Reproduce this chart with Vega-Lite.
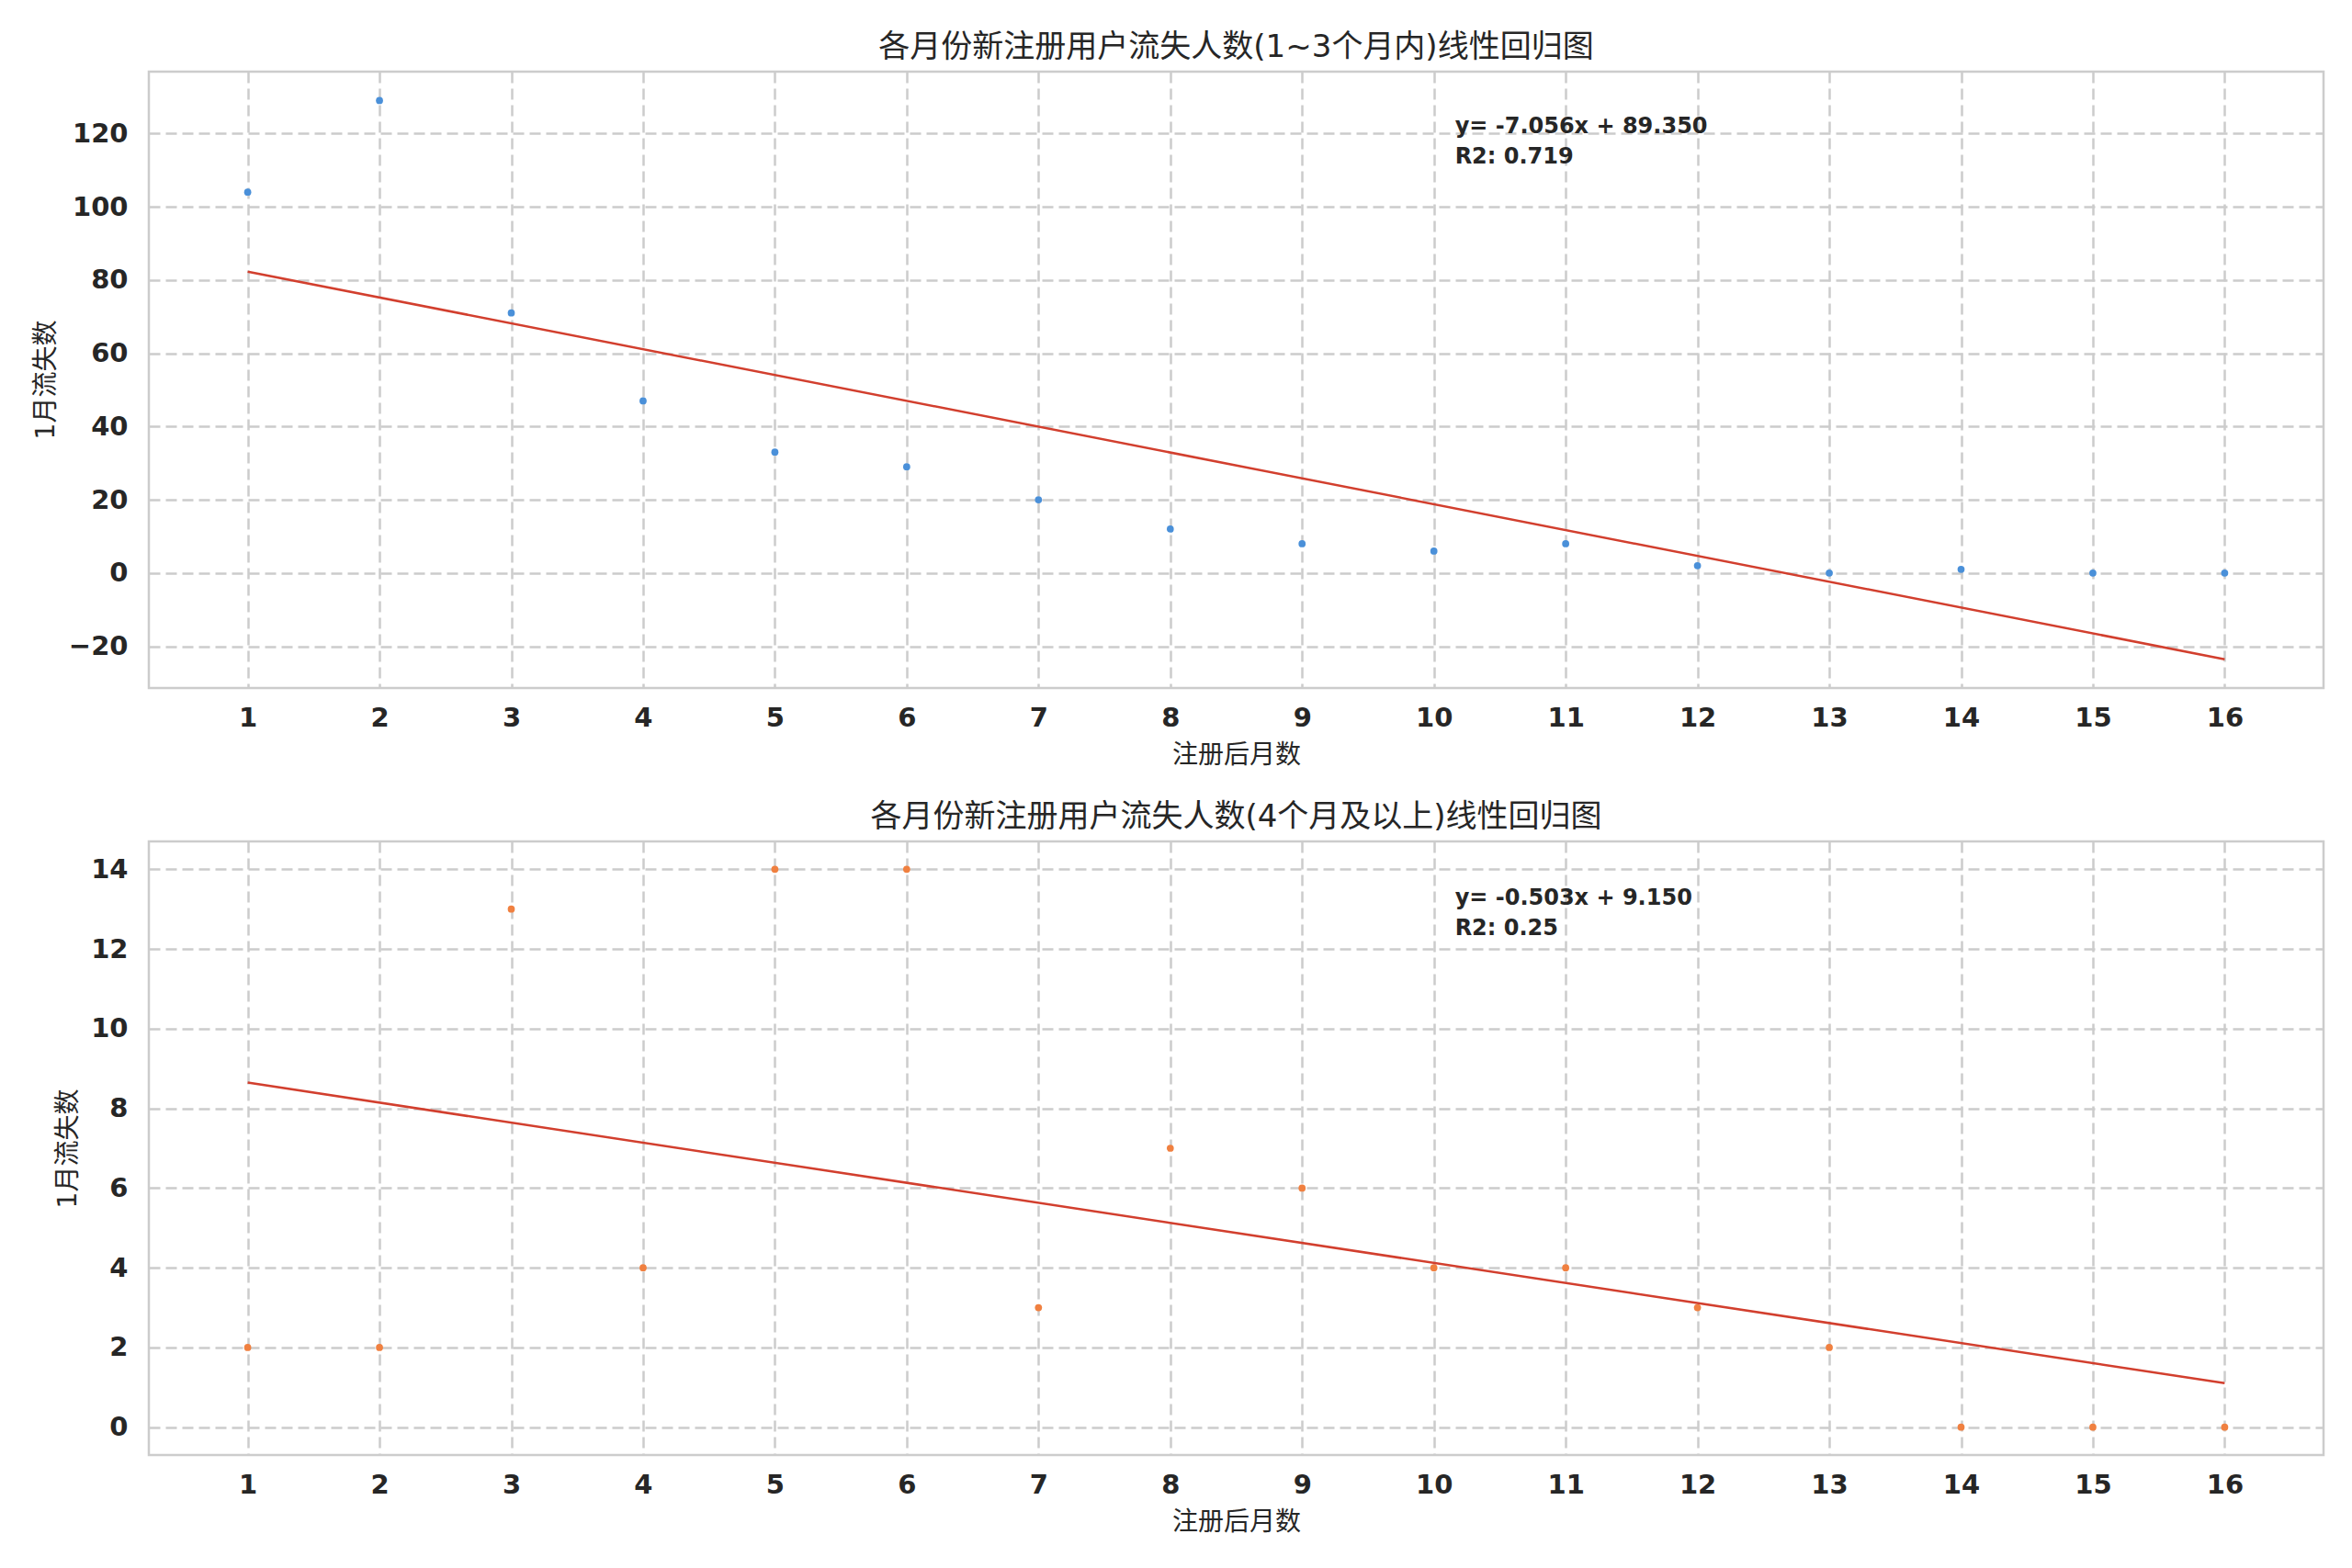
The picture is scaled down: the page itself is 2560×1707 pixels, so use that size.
{
  "$schema": "https://vega.github.io/schema/vega-lite/v6.json",
  "background": "white",
  "padding": {"left": 34, "top": 33, "right": 30, "bottom": 20},
  "config": {
    "font": "DejaVu Sans, Noto Sans CJK SC",
    "view": {"stroke": "#cccccc", "strokeWidth": 2.5},
    "axis": {
      "grid": true,
      "gridColor": "#cccccc",
      "gridDash": [12, 6],
      "gridWidth": 2.5,
      "domain": false,
      "ticks": false,
      "tickSize": 0,
      "labelFont": "DejaVu Sans",
      "labelFontWeight": "bold",
      "labelFontSize": 29,
      "labelColor": "#262626",
      "titleFont": "DejaVu Sans, Noto Sans CJK SC",
      "titleFontSize": 28,
      "titleFontWeight": "normal",
      "titleColor": "#262626"
    },
    "title": {"font": "DejaVu Sans, Noto Sans CJK SC", "fontSize": 34, "fontWeight": "normal", "color": "#262626", "offset": 9, "baseline": "alphabetic"}
  },
  "data": {
    "values": [
      {"group": "a", "x": 1, "y": 104}, {"group": "a", "x": 2, "y": 129}, {"group": "a", "x": 3, "y": 71}, {"group": "a", "x": 4, "y": 47},
      {"group": "a", "x": 5, "y": 33}, {"group": "a", "x": 6, "y": 29}, {"group": "a", "x": 7, "y": 20}, {"group": "a", "x": 8, "y": 12},
      {"group": "a", "x": 9, "y": 8}, {"group": "a", "x": 10, "y": 6}, {"group": "a", "x": 11, "y": 8}, {"group": "a", "x": 12, "y": 2},
      {"group": "a", "x": 13, "y": 0}, {"group": "a", "x": 14, "y": 1}, {"group": "a", "x": 15, "y": 0}, {"group": "a", "x": 16, "y": 0},
      {"group": "b", "x": 1, "y": 2}, {"group": "b", "x": 2, "y": 2}, {"group": "b", "x": 3, "y": 13}, {"group": "b", "x": 4, "y": 4},
      {"group": "b", "x": 5, "y": 14}, {"group": "b", "x": 6, "y": 14}, {"group": "b", "x": 7, "y": 3}, {"group": "b", "x": 8, "y": 7},
      {"group": "b", "x": 9, "y": 6}, {"group": "b", "x": 10, "y": 4}, {"group": "b", "x": 11, "y": 4}, {"group": "b", "x": 12, "y": 3},
      {"group": "b", "x": 13, "y": 2}, {"group": "b", "x": 14, "y": 0}, {"group": "b", "x": 15, "y": 0}, {"group": "b", "x": 16, "y": 0}
    ]
  },
  "spacing": 33,
  "vconcat": [
    {
      "title": "各月份新注册用户流失人数(1~3个月内)线性回归图",
      "width": 2367,
      "height": 671,
      "layer": [
        {
          "transform": [{"filter": "datum.group === 'a'"}],
          "mark": {"type": "point", "filled": true, "size": 60, "opacity": 1, "color": "#4a90d9"},
          "encoding": {
            "x": {
              "field": "x", "type": "quantitative",
              "scale": {"domain": [0.25, 16.75], "nice": false, "zero": false},
              "axis": {"values": [1, 2, 3, 4, 5, 6, 7, 8, 9, 10, 11, 12, 13, 14, 15, 16], "format": "d", "title": "注册后月数", "labelBaseline": "middle", "labelPadding": 32, "titleY": 73, "titleBaseline": "middle"}
            },
            "y": {
              "field": "y", "type": "quantitative",
              "scale": {"domain": [-31.4, 136.9], "nice": false, "zero": false},
              "axis": {"values": [-20, 0, 20, 40, 60, 80, 100, 120], "format": "d", "title": "1月流失数", "labelPadding": 23, "titleX": -112, "titleY": 335, "titleBaseline": "middle", "titleAngle": -90}
            }
          }
        },
        {
          "transform": [{"filter": "datum.group === 'a'"}, {"regression": "y", "on": "x"}],
          "mark": {"type": "line", "color": "#d23f2e", "strokeWidth": 2.5},
          "encoding": {"x": {"field": "x", "type": "quantitative"}, "y": {"field": "y", "type": "quantitative"}}
        },
        {
          "data": {"values": [{"tx": 10.16, "ty": 124.8, "t": "y= -7.056x + 89.350\nR2: 0.719"}]},
          "mark": {"type": "text", "align": "left", "baseline": "top", "fontWeight": "bold", "fontSize": 24, "lineHeight": 33, "lineBreak": "\n", "color": "#262626", "font": "DejaVu Sans"},
          "encoding": {"x": {"field": "tx", "type": "quantitative"}, "y": {"field": "ty", "type": "quantitative"}, "text": {"field": "t"}}
        }
      ]
    },
    {
      "title": "各月份新注册用户流失人数(4个月及以上)线性回归图",
      "width": 2367,
      "height": 668,
      "layer": [
        {
          "transform": [{"filter": "datum.group === 'b'"}],
          "mark": {"type": "point", "filled": true, "size": 60, "opacity": 1, "color": "#f08040"},
          "encoding": {
            "x": {
              "field": "x", "type": "quantitative",
              "scale": {"domain": [0.25, 16.75], "nice": false, "zero": false},
              "axis": {"values": [1, 2, 3, 4, 5, 6, 7, 8, 9, 10, 11, 12, 13, 14, 15, 16], "format": "d", "title": "注册后月数", "labelBaseline": "middle", "labelPadding": 32, "titleY": 73, "titleBaseline": "middle"}
            },
            "y": {
              "field": "y", "type": "quantitative",
              "scale": {"domain": [-0.7, 14.7], "nice": false, "zero": false},
              "axis": {"values": [0, 2, 4, 6, 8, 10, 12, 14], "format": "d", "title": "1月流失数", "labelPadding": 23, "titleX": -88, "titleY": 334, "titleBaseline": "middle", "titleAngle": -90}
            }
          }
        },
        {
          "transform": [{"filter": "datum.group === 'b'"}, {"regression": "y", "on": "x"}],
          "mark": {"type": "line", "color": "#d23f2e", "strokeWidth": 2.5},
          "encoding": {"x": {"field": "x", "type": "quantitative"}, "y": {"field": "y", "type": "quantitative"}}
        },
        {
          "data": {"values": [{"tx": 10.16, "ty": 13.54, "t": "y= -0.503x + 9.150\nR2: 0.25"}]},
          "mark": {"type": "text", "align": "left", "baseline": "top", "fontWeight": "bold", "fontSize": 24, "lineHeight": 33, "lineBreak": "\n", "color": "#262626", "font": "DejaVu Sans"},
          "encoding": {"x": {"field": "tx", "type": "quantitative"}, "y": {"field": "ty", "type": "quantitative"}, "text": {"field": "t"}}
        }
      ]
    }
  ]
}
